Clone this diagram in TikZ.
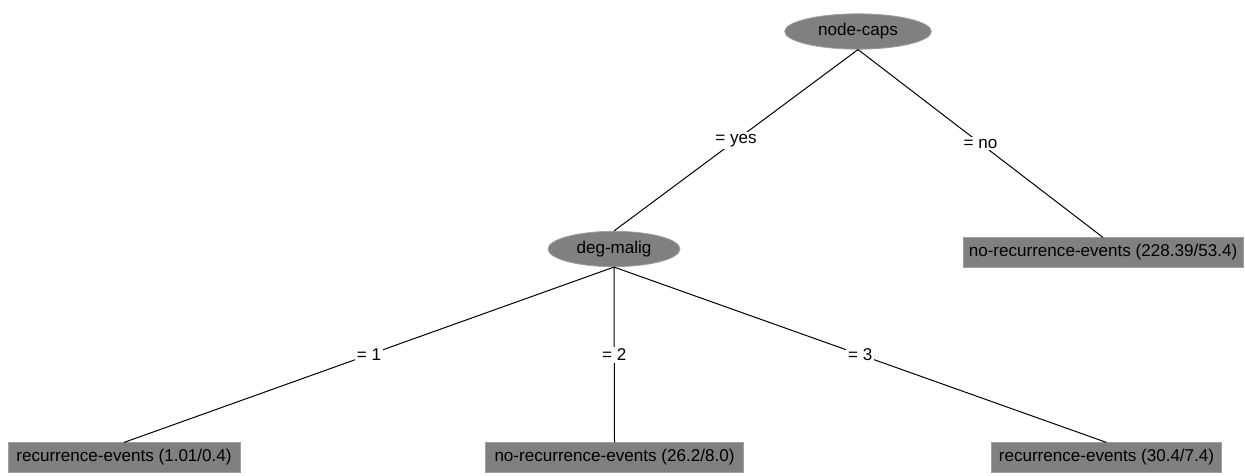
\documentclass[tikz,border=0pt]{standalone}
\usepackage{fontspec}
\setmainfont{Liberation Sans}
\usetikzlibrary{shapes.geometric}
\definecolor{nodegray}{RGB}{128,128,128}
\definecolor{edgegray}{RGB}{160,160,160}
\tikzset{
  treefont/.style={font=\fontsize{12.8}{15}\selectfont, text=black},
  split/.style={treefont, ellipse, fill=nodegray, draw=edgegray, line width=0.6pt,
    minimum width=#1, minimum height=26.5pt, inner sep=0pt},
  leaf/.style={treefont, rectangle, fill=nodegray, draw=edgegray, line width=0.6pt,
    minimum width=#1, minimum height=22pt, inner sep=0pt},
  branch/.style={treefont, fill=white, inner sep=1.5pt},
  edge/.style={draw=black, line width=0.75pt}
}
\begin{document}
\begin{tikzpicture}[x=0.75pt,y=-0.75pt]
  \useasboundingbox (0,0) rectangle (1245,475);
  \fill[white] (0,0) rectangle (1245,475);

  % decision nodes
  \node[split=110pt] (caps) at (858,31.5) {node-caps};
  \node[split=99pt]  (malig) at (614,249) {deg-malig};

  % leaves
  \node[leaf=210pt] (leafno) at (1103,252.5) {no-recurrence-events (228.39/53.4)};
  \node[leaf=174pt] (leafa) at (124,457.5) {recurrence-events (1.01/0.4)};
  \node[leaf=193pt] (leafb) at (614.5,457.5) {no-recurrence-events (26.2/8.0)};
  \node[leaf=173pt] (leafc) at (1106.5,457.5) {recurrence-events (30.4/7.4)};

  % branches with their test values
  \draw[edge] (caps.south) -- node[branch] {= yes} (malig.north);
  \draw[edge] (caps.south) -- node[branch] {= no} (leafno.north);
  \draw[edge] (malig.south) -- node[branch] {= 1} (leafa.north);
  \draw[edge] (malig.south) -- node[branch] {= 2} (leafb.north);
  \draw[edge] (malig.south) -- node[branch] {= 3} (leafc.north);
\end{tikzpicture}
\end{document}
